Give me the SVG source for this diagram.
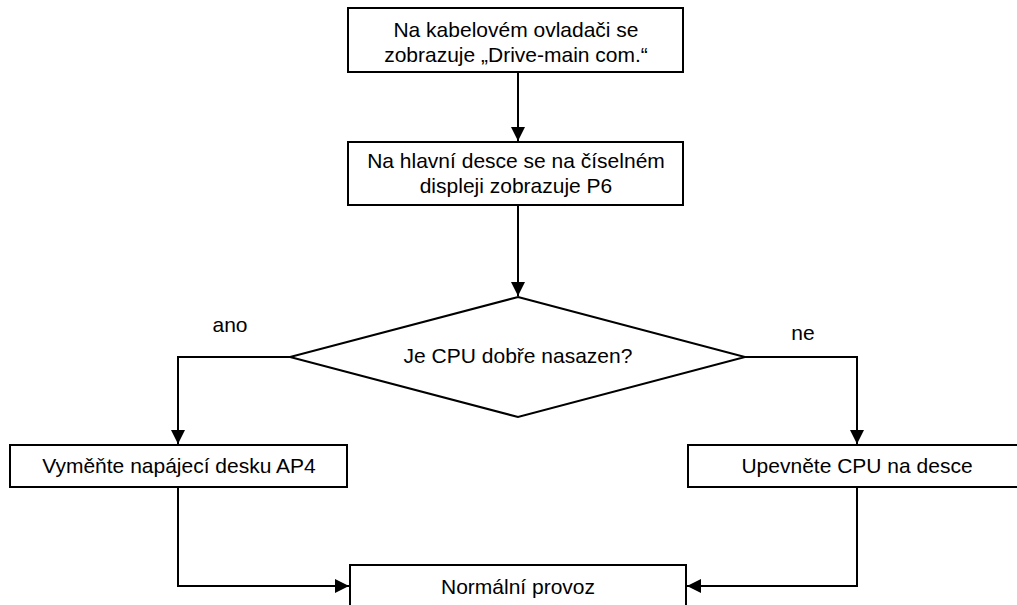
<svg xmlns="http://www.w3.org/2000/svg" width="1017" height="605" viewBox="0 0 1017 605">
<style>
.box{fill:#fff;stroke:#000;stroke-width:2}
.t{font-family:"Liberation Sans",Arial,sans-serif;font-size:21px;fill:#000;text-anchor:middle}
.c{fill:none;stroke:#000;stroke-width:2}
</style>
<defs>
<marker id="ah" markerUnits="userSpaceOnUse" markerWidth="14" markerHeight="14" viewBox="0 0 14 14" refX="14" refY="7" orient="auto">
<path d="M0,0 L14,7 L0,14 Z" fill="#000"/>
</marker>
</defs>
<rect width="1017" height="605" fill="#fff"/>
<g id="connectors">
<path class="c" d="M518,72 V141" marker-end="url(#ah)"/>
<path class="c" d="M518,205 V296" marker-end="url(#ah)"/>
<path class="c" d="M290,357 H178 V444" marker-end="url(#ah)"/>
<path class="c" d="M745,357 H857 V444" marker-end="url(#ah)"/>
<path class="c" d="M178,487 V586 H349" marker-end="url(#ah)"/>
<path class="c" d="M857,487 V586 H687" marker-end="url(#ah)"/>
</g>
<g id="n1">
<rect class="box" x="348" y="8" width="335" height="64"/>
<text class="t" x="516" y="37">Na kabelovém ovladači se</text>
<text class="t" x="516" y="62">zobrazuje „Drive-main com.“</text>
</g>
<g id="n2">
<rect class="box" x="348" y="142" width="335" height="63"/>
<text class="t" x="516" y="168">Na hlavní desce se na číselném</text>
<text class="t" x="516" y="193">displeji zobrazuje P6</text>
</g>
<g id="n3">
<polygon class="box" points="518,297 745,357 518,417 290,357"/>
<text class="t" x="518" y="363">Je CPU dobře nasazen?</text>
</g>
<g id="n4">
<rect class="box" x="10" y="445" width="337" height="42"/>
<text class="t" x="179" y="473">Vyměňte napájecí desku AP4</text>
</g>
<g id="n5">
<rect class="box" x="688" y="445" width="337" height="42"/>
<text class="t" x="857" y="473">Upevněte CPU na desce</text>
</g>
<g id="n6">
<rect class="box" x="350" y="565" width="336" height="50"/>
<text class="t" x="518" y="594">Normální provoz</text>
</g>
<text class="t" x="230" y="332">ano</text>
<text class="t" x="803" y="340">ne</text>
</svg>
